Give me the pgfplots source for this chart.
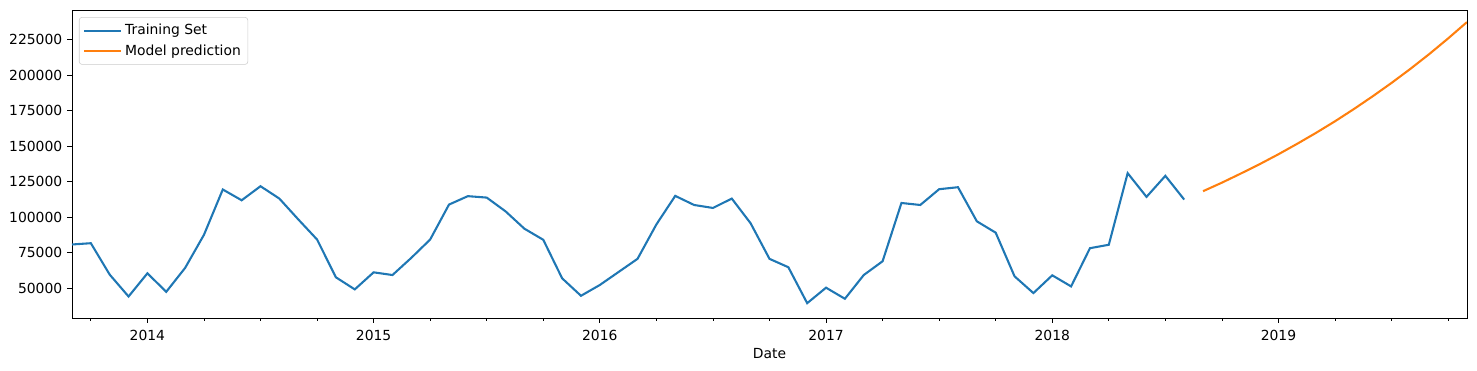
\documentclass[border=0pt]{standalone}
\usepackage{fontspec}
\setmainfont{DejaVu Sans}
\usepackage{pgfplots}
\pgfplotsset{compat=1.18}
\definecolor{c0}{HTML}{1F77B4}
\definecolor{c1}{HTML}{FF7F0E}
\begin{document}
\begin{tikzpicture}[x=1pt,y=1pt]
\path (-51.84,-38.16) rectangle (1011.6,228.96);
\begin{axis}[
  at={(0,0)}, anchor=south west,
  scale only axis, width=1004.4pt, height=221.76pt,
  xmin=-4, xmax=70, ymin=29170, ymax=245900,
  xtick={0,12,24,36,48,60},
  xticklabels={2014,2015,2016,2017,2018,2019},
  minor xtick={-3,3,6,9,15,18,21,27,30,33,39,42,45,51,54,57,63,66,69},
  ytick={50000,75000,100000,125000,150000,175000,200000,225000},
  yticklabels={50000,75000,100000,125000,150000,175000,200000,225000},
  scaled y ticks=false,
  tick align=outside,
  xtick pos=bottom, ytick pos=left,
  major tick length=3.5pt, minor tick length=2pt,
  tick style={black, line width=0.6pt},
  axis line style={line width=0.6pt},
  ticklabel style={font=\fontsize{10}{12}\selectfont},
  xticklabel style={yshift=-1.5pt},
  xlabel={Date},
  xlabel style={font=\fontsize{10}{12}\selectfont, yshift=1pt},
  legend style={at={(0.005,0.977)}, anchor=north west, draw=black!20, rounded corners=2pt,
    fill=white, fill opacity=0.8, text opacity=1, font=\fontsize{10}{12}\selectfont,
    inner xsep=3pt, inner ysep=3pt, row sep=1.7pt},
  legend cell align=left,
  legend image code/.code={\draw[#1] (0pt,0pt) -- (21.5pt,0pt); \path (0pt,0pt) -- (26.5pt,0pt);},
]
\addplot[c0, line width=1.5pt] coordinates {
(-4,80900) (-3,81800) (-2,59700) (-1,44300) (0,60600) (1,47600) (2,64400) (3,87700)
(4,119600) (5,112000) (6,121900) (7,113200) (8,98600) (9,84400) (10,57800) (11,49300)
(12,61300) (13,59400) (14,71500) (15,84400) (16,109000) (17,114900) (18,113900) (19,104200)
(20,92000) (21,84200) (22,57100) (23,44800) (24,52400) (25,61600) (26,70800) (27,95000)
(28,115100) (29,108700) (30,106600) (31,113200) (32,95800) (33,70800) (34,64900) (35,39600)
(36,50500) (37,42700) (38,59400) (39,69100) (40,110100) (41,108700) (42,119800) (43,121200)
(44,97200) (45,89200) (46,58500) (47,46700) (48,59200) (49,51400) (50,78300) (51,80700)
(52,131100) (53,114400) (54,129200) (55,112500)
};
\addlegendentry{Training Set}
\addplot[c1, line width=1.5pt] coordinates {
(56,118400) (57,124400) (58,130800) (59,137400) (60,144400) (61,151800) (62,159500)
(63,167600) (64,176200) (65,185200) (66,194600) (67,204500) (68,214900) (69,225900) (70,237400)
};
\addlegendentry{Model prediction}
\end{axis}
\end{tikzpicture}
\end{document}
